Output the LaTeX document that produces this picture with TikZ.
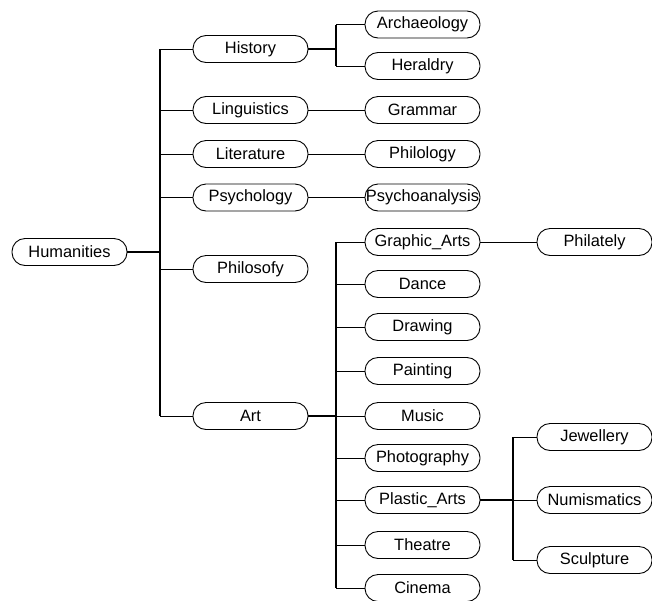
\documentclass[tikz,border=0pt]{standalone}
\usepackage{fontspec}
\setmainfont{Liberation Sans}
\usepackage{tikz}
\usetikzlibrary{calc,positioning,shapes,arrows}
\tikzstyle{topic} = [rectangle, draw, rounded corners=13pt, line width=0.9pt, minimum width=115pt, minimum height=27pt, inner sep=0pt, font=\fontsize{16.4}{19}\selectfont]
\tikzstyle{line} = [draw, line width=0.9pt]
\tikzstyle{stub} = [draw, line width=1.7pt]
\tikzstyle{trunk} = [draw, line width=1.2pt]

\begin{document}
\begin{tikzpicture}[x=1pt, y=-1pt, node distance = 172pt]
    \useasboundingbox (0,0) rectangle (652,600);
    % Root and first level
    \node [topic] (hum) at (69.5,252) {Humanities};
    \node [topic] (hist) at (250.5,49) {History};
    \node [topic] (ling) at (250.5,110) {Linguistics};
    \node [topic] (lit) at (250.5,154) {Literature};
    \node [topic] (psy) at (250.5,197.5) {Psychology};
    \node [topic] (phil) at (250.5,269) {Philosofy};
    \node [topic] (art) at (250.5,416) {Art};
    % Second level
    \node [topic] (arch) at (422.5,24.5) {Archaeology};
    \node [topic] (her) at (422.5,66) {Heraldry};
    \node [topic, right of=ling] (gram) {Grammar};
    \node [topic, right of=lit] (philo) {Philology};
    \node [topic, right of=psy] (psya) {Psychoanalysis};
    \node [topic] (graph) at (422.5,242) {Graphic\_Arts};
    \node [topic] (dance) at (422.5,284) {Dance};
    \node [topic] (draw) at (422.5,327) {Drawing};
    \node [topic] (paint) at (422.5,371) {Painting};
    \node [topic] (music) at (422.5,416) {Music};
    \node [topic] (photo) at (422.5,458) {Photography};
    \node [topic] (plast) at (422.5,500) {Plastic\_Arts};
    \node [topic] (theat) at (422.5,545) {Theatre};
    \node [topic] (cine) at (422.5,588) {Cinema};
    % Third level
    \node [topic, right of=graph] (phila) {Philately};
    \node [topic] (jew) at (594.5,437) {Jewellery};
    \node [topic, right of=plast] (numi) {Numismatics};
    \node [topic] (sculp) at (594.5,560) {Sculpture};
    % Junctions
    \coordinate (jhum) at (160,252);
    \coordinate (jhist) at (336,49);
    \coordinate (jart) at (336,416);
    \coordinate (jplast) at (513,500);
    % Lines
    \path [stub] (hum.east) -- (jhum);
    \path [trunk] (hist.west -| jhum) -- (art.west -| jhum);
    \foreach \n in {hist,ling,lit,psy,phil,art}
        \path [line] (jhum |- \n.west) -- (\n.west);
    \path [stub] (hist.east) -- (jhist);
    \path [trunk] (arch.west -| jhist) -- (her.west -| jhist);
    \foreach \n in {arch,her}
        \path [line] (jhist |- \n.west) -- (\n.west);
    \path [line] (ling) -- (gram);
    \path [line] (lit) -- (philo);
    \path [line] (psy) -- (psya);
    \path [line] (graph) -- (phila);
    \path [stub] (art.east) -- (jart);
    \path [trunk] (graph.west -| jart) -- (cine.west -| jart);
    \foreach \n in {graph,dance,draw,paint,music,photo,plast,theat,cine}
        \path [line] (jart |- \n.west) -- (\n.west);
    \path [stub] (plast.east) -- (jplast);
    \path [trunk] (jew.west -| jplast) -- (sculp.west -| jplast);
    \foreach \n in {jew,numi,sculp}
        \path [line] (jplast |- \n.west) -- (\n.west);
\end{tikzpicture}
\end{document}
